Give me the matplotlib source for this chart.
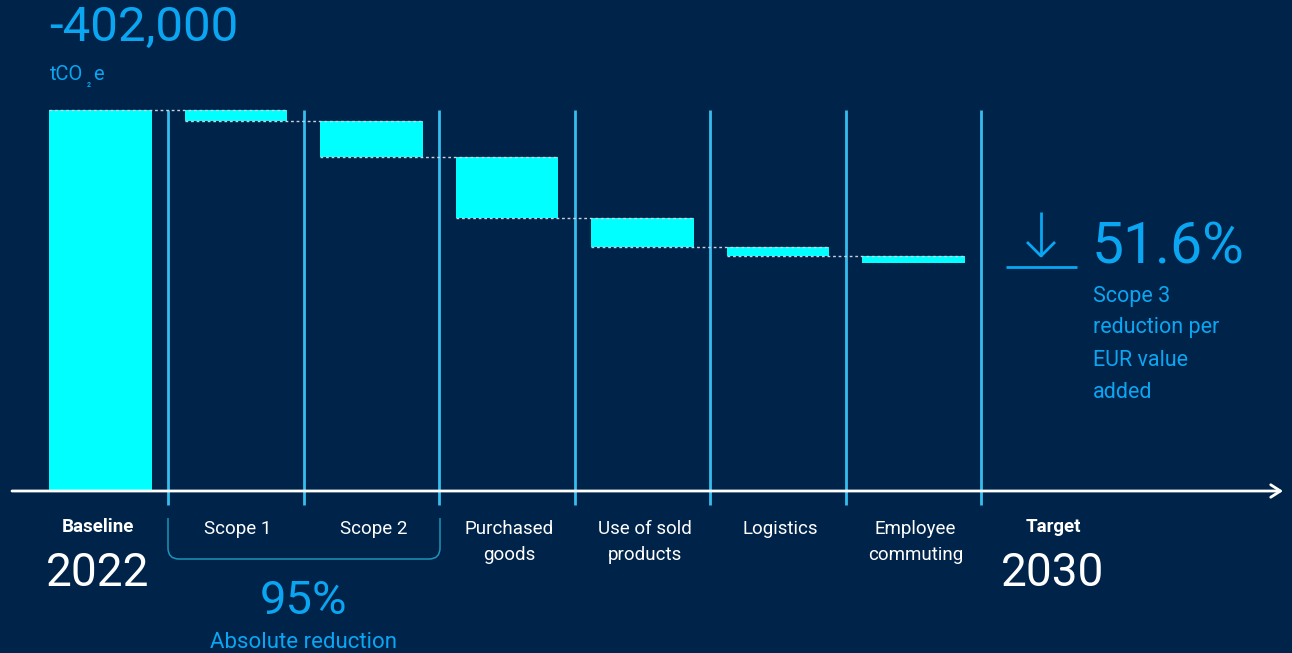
import matplotlib
matplotlib.use("Agg")
import matplotlib.pyplot as plt
from matplotlib.path import Path
from matplotlib.patches import PathPatch
from matplotlib.lines import Line2D
import numpy as np

# ---- data -------------------------------------------------------------
baseline_value = 1_000_000          # tCO2e, 2022
categories = ["Scope 1", "Scope 2", "Purchased\ngoods", "Use of sold\nproducts",
              "Logistics", "Employee\ncommuting"]
reductions = [29_000, 95_000, 160_000, 76_000, 24_000, 18_000]
total_reduction_label = "-402,000"
absolute_reduction_label = "95%"
intensity_reduction_label = "51.6%"
start_year, target_year = "2022", "2030"

# ---- style ------------------------------------------------------------
BG = "#00234a"
BAR = "#00ffff"
BLUE = "#0aa6f2"
SEP = "#35bdee"
BRACKET = "#1c94b8"
WHITE = "#ffffff"
plt.rcParams["font.family"] = ["Roboto", "DejaVu Sans"]

W, H = 1292, 653
fig = plt.figure(figsize=(W / 100, H / 100), dpi=100, facecolor=BG)
ax = fig.add_axes([0, 0, 1, 1])
ax.set_facecolor(BG)
ax.axis("off")

# axis scales: one category per 135.5 px, value scale 381 px per 1e6
x0_px, step_px = 100.5, 135.5
y0_px, yscale = 491, 381 / 1_000_000
ax.set_xlim(-x0_px / step_px, (W - x0_px) / step_px)
ax.set_ylim(-(H - y0_px) / yscale, y0_px / yscale)


def F(x, y):
    """pixel position (from top-left) -> figure fraction"""
    return x / W, 1 - y / H


bar_w = 0.76
n = len(categories)

# baseline bar
ax.bar(0, baseline_value, width=bar_w, color=BAR, zorder=3)

# waterfall steps
level = baseline_value
levels = [level]
for i, r in enumerate(reductions, start=1):
    ax.bar(i, r, bottom=level - r, width=bar_w, color=BAR, zorder=3)
    level -= r
    levels.append(level)

# dotted connectors: from left of bar i to right of bar i+1
for i in range(n):
    ax.plot([i - bar_w / 2, i + 1 + bar_w / 2], [levels[i], levels[i]],
            color="#c8d2dc", lw=1.0, ls=(0, (2, 2)), zorder=4)

# separators between categories
sep_bottom = -14 / yscale
for i in range(n + 1):
    ax.plot([i + 0.5, i + 0.5], [sep_bottom, baseline_value],
            color=SEP, lw=2.0, zorder=2, solid_capstyle="butt")

# horizontal axis with arrow
ax.annotate("", xy=((1283 - x0_px) / step_px, 0), xytext=((12 - x0_px) / step_px, 0),
            arrowprops=dict(arrowstyle="->,head_length=0.7,head_width=0.45",
                            color=WHITE, lw=2.0, shrinkA=0, shrinkB=0), zorder=5)

# ---- texts ------------------------------------------------------------
fig.text(*F(49, 28), total_reduction_label, color=BLUE, fontsize=35.5,
         va="center", ha="left")
fig.text(*F(50, 74), "tCO", color=BLUE, fontsize=14.5, va="center", ha="left")
fig.text(*F(89, 85), "2", color=BLUE, fontsize=5, va="center", ha="center",
         fontweight="bold")
fig.text(*F(93, 74), "e", color=BLUE, fontsize=14.5, va="center", ha="left")

label_y = 527
fig.text(*F(98, label_y), "Baseline", color=WHITE, fontsize=13.5,
         fontweight="bold", ha="center", va="center")
fig.text(*F(98, 573), start_year, color=WHITE, fontsize=33,
         ha="center", va="center")
for i, c in enumerate(categories, start=1):
    xc = x0_px + i * step_px + 2
    fig.text(*F(xc, label_y - 7), c, color=WHITE, fontsize=13.5, ha="center",
             va="top", linespacing=1.55)
xt = 1053
fig.text(*F(xt, label_y), "Target", color=WHITE, fontsize=13.5,
         fontweight="bold", ha="center", va="center")
fig.text(*F(xt, 573), target_year, color=WHITE, fontsize=33,
         ha="center", va="center")

# bracket under Scope 1 and Scope 2
xl, xr, yt, yb, r = 168, 440, 518, 559, 11
verts = [F(xl, yt), F(xl, yb - r), F(xl, yb), F(xl + r, yb), F(xr - r, yb),
         F(xr, yb), F(xr, yb - r), F(xr, yt)]
codes = [Path.MOVETO, Path.LINETO, Path.CURVE3, Path.CURVE3, Path.LINETO,
         Path.CURVE3, Path.CURVE3, Path.LINETO]
fig.patches.append(PathPatch(Path(verts, codes), transform=fig.transFigure,
                             fill=False, edgecolor=BRACKET, lw=1.1))

fig.text(*F(304, 601), absolute_reduction_label, color=BLUE, fontsize=34,
         ha="center", va="center")
fig.text(*F(304, 643), "Absolute reduction", color=BLUE, fontsize=16,
         ha="center", va="center")

# down-arrow icon
icon = dict(color=BLUE, lw=2.0, transform=fig.transFigure, solid_capstyle="butt")
for xs, ys in [([1041, 1041], [212, 256]), ([1027, 1041, 1055], [242, 256, 242]),
               ([1006, 1077], [267, 267])]:
    pts = [F(x, y) for x, y in zip(xs, ys)]
    fig.lines.append(Line2D([p[0] for p in pts], [p[1] for p in pts], **icon))

fig.text(*F(1092, 248), intensity_reduction_label, color=BLUE, fontsize=41,
         ha="left", va="center")
for k, line in enumerate(["Scope 3", "reduction per", "EUR value", "added"]):
    fig.text(*F(1093, 296 + 32 * k), line, color=BLUE, fontsize=15.5,
             ha="left", va="center")

fig.savefig("out.png", dpi=100, facecolor=BG)
